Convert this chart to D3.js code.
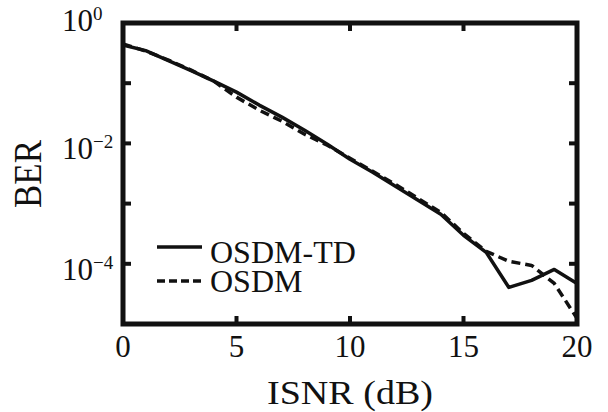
<!DOCTYPE html>
<html>
<head>
<meta charset="utf-8">
<script src="https://cdn.jsdelivr.net/npm/d3@7"></script>
<style>
  body { margin: 0; background: #fff; }
</style>
</head>
<body>
<div id="chart"></div>
<script>
// ISNR values (dB)
var isnr = [0, 1, 2, 3, 4, 5, 6, 7, 8, 9, 10, 11, 12, 13, 14, 15, 16, 17, 18, 19, 20];

// BER
var berOsdmTd = [0.43, 0.348, 0.238, 0.162, 0.108, 0.0711, 0.0433, 0.0273, 0.0166, 0.0097,
  0.00546, 0.00332, 0.00194, 0.00114, 0.000664, 0.000297, 0.000155, 4.05e-5, 5.3e-5, 8.07e-5, 4.72e-5];
var berOsdm = [0.448, 0.342, 0.242, 0.165, 0.108, 0.0587, 0.0356, 0.0234, 0.0142, 0.00933,
  0.00568, 0.00344, 0.00209, 0.00122, 0.000716, 0.000321, 0.000161, 0.00011, 9.4e-5, 4.72e-5, 1.24e-5];

var xTicks = [0, 5, 10, 15, 20];
var yTicks = [1, 1e-1, 1e-2, 1e-3, 1e-4, 1e-5];
var yLabels = [{v: 1, exp: "0"}, {v: 1e-2, exp: "\u22122"}, {v: 1e-4, exp: "\u22124"}];

var legendItems = [
  {name: "OSDM-TD", data: berOsdmTd, dash: null},
  {name: "OSDM", data: berOsdm, dash: "9,5"}
];

var serif = "'Liberation Serif', 'Times New Roman', serif";

var svgWidth = 608, svgHeight = 412;
var margin = {top: 23, right: 31, bottom: 88, left: 123};
var width = svgWidth - margin.left - margin.right;
var height = svgHeight - margin.top - margin.bottom;

var svg = d3.select("#chart").append("svg")
  .attr("width", svgWidth)
  .attr("height", svgHeight)
  .attr("font-family", serif)
  .attr("fill", "#111");

var chartGroup = svg.append("g")
  .attr("transform", `translate(${margin.left}, ${margin.top})`);

var xScale = d3.scaleLinear().domain([0, 20]).range([0, width]);
var yScale = d3.scaleLog().domain([1e-5, 1]).range([height, 0]);

// curves
var line = d3.line()
  .x((d, i) => xScale(isnr[i]))
  .y(d => yScale(d));

legendItems.forEach(function(s) {
  chartGroup.append("path")
    .datum(s.data)
    .attr("d", line)
    .attr("fill", "none")
    .attr("stroke", "#111")
    .attr("stroke-width", 3.5)
    .attr("stroke-linejoin", "round")
    .attr("stroke-dasharray", s.dash);
});

// inward ticks on all four sides
var tickLen = 8;
var ticks = chartGroup.append("g").attr("stroke", "#111").attr("stroke-width", 4);
xTicks.forEach(function(t) {
  ticks.append("line").attr("x1", xScale(t)).attr("x2", xScale(t))
    .attr("y1", height).attr("y2", height - tickLen);
  ticks.append("line").attr("x1", xScale(t)).attr("x2", xScale(t))
    .attr("y1", 0).attr("y2", tickLen);
});
yTicks.forEach(function(t) {
  ticks.append("line").attr("x1", 0).attr("x2", tickLen)
    .attr("y1", yScale(t)).attr("y2", yScale(t));
  ticks.append("line").attr("x1", width).attr("x2", width - tickLen)
    .attr("y1", yScale(t)).attr("y2", yScale(t));
});

// frame
chartGroup.append("rect")
  .attr("width", width).attr("height", height)
  .attr("fill", "none")
  .attr("stroke", "#111")
  .attr("stroke-width", 5);

// x tick labels
chartGroup.selectAll(".xlab")
  .data(xTicks)
  .enter()
  .append("text")
  .attr("x", d => xScale(d))
  .attr("y", height + 33)
  .attr("text-anchor", "middle")
  .style("font-size", "31px")
  .text(d => d);

// y tick labels (10^n)
yLabels.forEach(function(l) {
  var yy = l.v === 1 ? 8 : yScale(l.v) + 16;
  var t = svg.append("text")
    .attr("x", 62)
    .attr("y", margin.top + yy)
    .style("font-size", "31px");
  t.append("tspan").text("10");
  t.append("tspan").attr("dy", -11).style("font-size", "19px").text(l.exp);
});

// axis titles
svg.append("text")
  .attr("transform", `translate(${margin.left + width / 2}, 404) scale(1.12, 1)`)
  .attr("text-anchor", "middle")
  .style("font-size", "34px")
  .text("ISNR (dB)");

svg.append("text")
  .attr("transform", "translate(41, 174) scale(1.12, 1) rotate(-90)")
  .attr("text-anchor", "middle")
  .style("font-size", "35px")
  .text("BER");

// legend
var legend = svg.append("g");
var legendY = [247, 281];
var textY = [263, 292];
legendItems.forEach(function(s, i) {
  legend.append("line")
    .attr("x1", 157).attr("x2", 202)
    .attr("y1", legendY[i]).attr("y2", legendY[i])
    .attr("stroke", "#111")
    .attr("stroke-width", 3.5)
    .attr("stroke-dasharray", s.dash ? "8,4" : null);
  legend.append("text")
    .attr("x", 210)
    .attr("y", textY[i])
    .style("font-size", "32px")
    .text(s.name);
});
</script>
</body>
</html>
